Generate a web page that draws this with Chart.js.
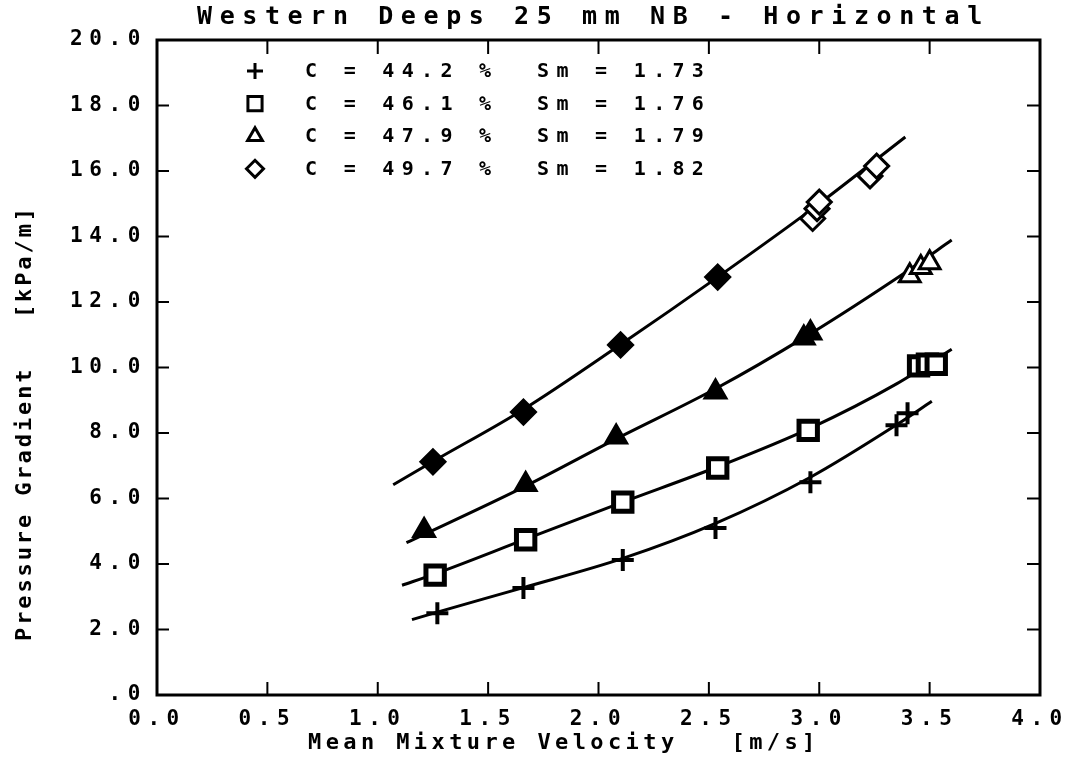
<!DOCTYPE html>
<html>
<head>
<meta charset="utf-8">
<script src="https://cdn.jsdelivr.net/npm/chart.js@4.4.1/dist/chart.umd.min.js"></script>
<style>
    html, body { margin: 0; padding: 0; background: #fff; }
    #wrap { width: 1068px; height: 773px; }
</style>
</head>
<body>
<div id="wrap"><canvas id="chart"></canvas></div>
<script>
const chartTitle = 'Western Deeps 25 mm NB - Horizontal';
const xTitle = 'Mean Mixture Velocity   [m/s]';
const yTitle = 'Pressure Gradient   [kPa/m]';

const xTickLabels = ['0.0', '0.5', '1.0', '1.5', '2.0', '2.5', '3.0', '3.5', '4.0'];
const yTickLabels = ['.0', '2.0', '4.0', '6.0', '8.0', '10.0', '12.0', '14.0', '16.0', '18.0', '20.0'];

const legendLabels = [
    'C = 44.2 %  Sm = 1.73',
    'C = 46.1 %  Sm = 1.76',
    'C = 47.9 %  Sm = 1.79',
    'C = 49.7 %  Sm = 1.82'
];

// measured points
const plusX = [1.27, 1.66, 2.11, 2.53, 2.96, 3.35, 3.40];
const plusY = [2.50, 3.27, 4.12, 5.10, 6.50, 8.24, 8.60];
const squareX = [1.26, 1.67, 2.11, 2.54, 2.95, 3.45, 3.49, 3.53];
const squareY = [3.66, 4.74, 5.89, 6.93, 8.08, 10.05, 10.10, 10.10];
const triangleX = [1.21, 1.67, 2.08, 2.53, 2.93, 2.96, 3.41, 3.46, 3.50];
const triangleY = [5.02, 6.43, 7.88, 9.25, 10.90, 11.05, 12.80, 13.05, 13.20];
const diamondX = [1.25, 1.66, 2.10, 2.54, 2.97, 2.99, 3.00, 3.23, 3.26];
const diamondY = [7.12, 8.64, 10.69, 12.76, 14.55, 14.85, 15.05, 15.85, 16.15];

// fitted curves
const plusFitX = [1.155, 1.27, 1.66, 2.11, 2.53, 2.96, 3.35, 3.51];
const plusFitY = [2.30, 2.53, 3.28, 4.17, 5.24, 6.65, 8.25, 8.97];
const squareFitX = [1.11, 1.26, 1.67, 2.11, 2.54, 2.96, 3.35, 3.60];
const squareFitY = [3.35, 3.70, 4.76, 5.89, 6.97, 8.15, 9.50, 10.56];
const triangleFitX = [1.13, 1.67, 2.08, 2.53, 2.94, 3.40, 3.60];
const triangleFitY = [4.65, 6.38, 7.82, 9.35, 10.95, 12.95, 13.89];
const diamondFitX = [1.07, 1.25, 1.66, 2.10, 2.54, 2.97, 3.39];
const diamondFitY = [6.42, 7.13, 8.72, 10.70, 12.76, 14.85, 17.04];

const toPoints = (xs, ys) => xs.map((x, i) => ({ x: x, y: ys[i] }));
const fillFirst = (n, total) => Array.from({ length: total }, (_, i) => i < n ? '#000' : '#fff');

const monoFont = "'DejaVu Sans Mono', 'Liberation Mono', monospace";

// the old plotter font is very wide, so space the letters out
const spacing = {
    id: 'spacing',
    beforeUpdate(chart) { chart.ctx.letterSpacing = '6.6px'; },
    beforeDraw(chart) { chart.ctx.letterSpacing = '6.6px'; }
};

const frame = {
    id: 'frame',
    afterDatasetsDraw(chart) {
        const ctx = chart.ctx;
        const area = chart.chartArea;
        const xs = chart.scales.x;
        const ys = chart.scales.y;
        ctx.save();
        ctx.strokeStyle = '#000';
        ctx.lineWidth = 3;
        ctx.strokeRect(area.left, area.top, area.right - area.left, area.bottom - area.top);
        ctx.lineWidth = 2;
        ctx.beginPath();
        xs.ticks.forEach(t => {
            const px = xs.getPixelForValue(t.value);
            ctx.moveTo(px, area.bottom);
            ctx.lineTo(px, area.bottom - 13);
            ctx.moveTo(px, area.top);
            ctx.lineTo(px, area.top + 14);
        });
        ys.ticks.forEach(t => {
            const py = ys.getPixelForValue(t.value);
            ctx.moveTo(area.left, py);
            ctx.lineTo(area.left + 12, py);
            ctx.moveTo(area.right, py);
            ctx.lineTo(area.right - 13, py);
        });
        ctx.stroke();
        ctx.restore();
    }
};

const titles = {
    id: 'titles',
    afterDraw(chart) {
        const ctx = chart.ctx;
        const area = chart.chartArea;
        ctx.save();
        ctx.fillStyle = '#000';
        ctx.textBaseline = 'middle';
        ctx.textAlign = 'left';

        ctx.letterSpacing = '7.6px';
        ctx.font = 'bold 25px ' + monoFont;
        ctx.fillText(chartTitle, area.left + 40, 17);

        ctx.letterSpacing = '4.4px';
        ctx.font = 'bold 22px ' + monoFont;
        ctx.fillText(xTitle, area.left + 151, 743);

        ctx.letterSpacing = '2.9px';
        ctx.translate(25, area.top + 601);
        ctx.rotate(-Math.PI / 2);
        ctx.fillText(yTitle, 0, 0);
        ctx.restore();
    }
};

const legendStyles = ['cross', 'rect', 'triangle', 'rectRot'];
const legendRadius = [8, 10, 8.5, 8.5];

const legendBox = {
    id: 'legendBox',
    afterDraw(chart) {
        const ctx = chart.ctx;
        const area = chart.chartArea;
        ctx.save();
        ctx.letterSpacing = '7.3px';
        ctx.font = 'bold 20px ' + monoFont;
        ctx.textBaseline = 'middle';
        ctx.textAlign = 'left';
        legendLabels.forEach((label, i) => {
            const y = area.top + 31 + i * 32.6;
            ctx.strokeStyle = '#000';
            ctx.fillStyle = '#fff';
            ctx.lineWidth = 3;
            Chart.helpers.drawPoint(ctx, { pointStyle: legendStyles[i], radius: legendRadius[i], borderWidth: 3 }, area.left + 98, y);
            ctx.fillStyle = '#000';
            ctx.fillText(label, area.left + 148, y + 1);
        });
        ctx.restore();
    }
};

const fitLine = (xs, ys) => ({
    data: toPoints(xs, ys),
    showLine: true,
    pointRadius: 0,
    borderColor: '#000',
    borderWidth: 3,
    cubicInterpolationMode: 'monotone'
});

new Chart(document.getElementById('chart'), {
    type: 'scatter',
    data: {
        datasets: [
            {
                label: legendLabels[0],
                data: toPoints(plusX, plusY),
                pointStyle: 'cross',
                pointRadius: 11,
                borderColor: '#000',
                borderWidth: 4
            },
            {
                label: legendLabels[1],
                data: toPoints(squareX, squareY),
                pointStyle: 'rect',
                pointRadius: 13,
                backgroundColor: '#fff',
                borderColor: '#000',
                borderWidth: 5
            },
            {
                label: legendLabels[2],
                data: toPoints(triangleX, triangleY),
                pointStyle: 'triangle',
                pointRadius: 12,
                backgroundColor: fillFirst(6, triangleX.length),
                borderColor: '#000',
                borderWidth: 3
            },
            {
                label: legendLabels[3],
                data: toPoints(diamondX, diamondY),
                pointStyle: 'rectRot',
                pointRadius: 12,
                backgroundColor: fillFirst(4, diamondX.length),
                borderColor: '#000',
                borderWidth: 3
            },
            fitLine(plusFitX, plusFitY),
            fitLine(squareFitX, squareFitY),
            fitLine(triangleFitX, triangleFitY),
            fitLine(diamondFitX, diamondFitY)
        ]
    },
    options: {
        responsive: true,
        maintainAspectRatio: false,
        animation: false,
        layout: { padding: { left: 0, right: 0, top: 40, bottom: 0 } },
        plugins: {
            legend: { display: false },
            tooltip: { enabled: false }
        },
        scales: {
            x: {
                type: 'linear',
                min: 0,
                max: 4,
                grid: { display: false, drawTicks: false },
                border: { display: false },
                ticks: {
                    stepSize: 0.5,
                    padding: 12,
                    color: '#000',
                    maxRotation: 0,
                    font: { family: monoFont, size: 21, weight: 'bold' },
                    callback: value => xTickLabels[Math.round(value / 0.5)]
                },
                afterFit: scale => {
                    scale.height = 78;
                    scale.paddingRight = 28;
                }
            },
            y: {
                type: 'linear',
                min: 0,
                max: 20,
                grid: { display: false, drawTicks: false },
                border: { display: false },
                ticks: {
                    stepSize: 2,
                    padding: 10,
                    color: '#000',
                    font: { family: monoFont, size: 21, weight: 'bold' },
                    callback: value => yTickLabels[Math.round(value / 2)]
                },
                afterFit: scale => { scale.width = 157; }
            }
        }
    },
    plugins: [spacing, frame, titles, legendBox]
});
</script>
</body>
</html>
